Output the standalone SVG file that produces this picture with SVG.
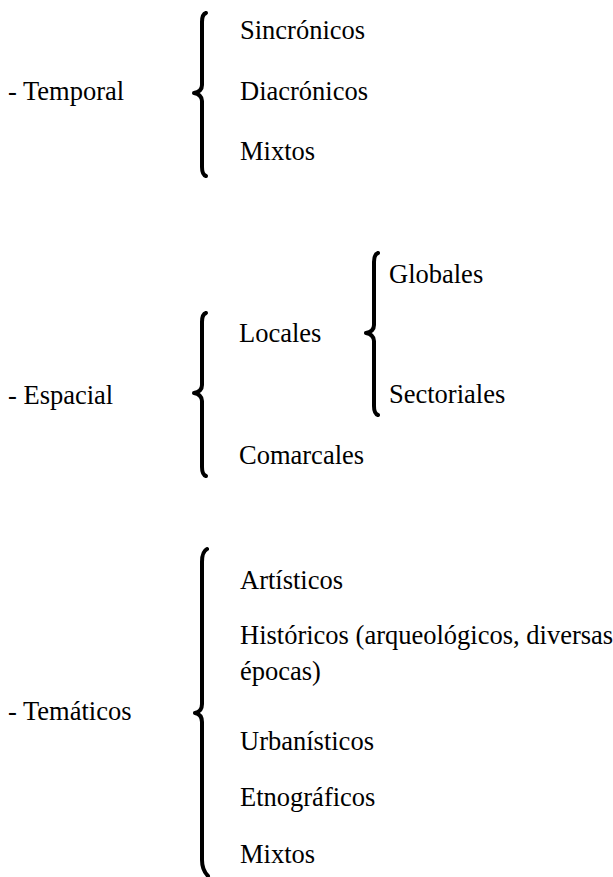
<svg xmlns="http://www.w3.org/2000/svg" width="613" height="877" viewBox="0 0 613 877">
<style>
.lbl{font-family:"Liberation Serif","Times New Roman",serif;font-size:26.5px;fill:#000}
.brace{fill:none;stroke:#000;stroke-width:4;stroke-linecap:round;stroke-linejoin:round}
</style>
<rect width="613" height="877" fill="#fff"/>
<g id="braces">
<path class="brace" d="M206,13 C203,14 202,17 202,22 L202,85 C202,89 199,92 194,93 C199,94 202,97 202,101 L202,167 C202,172 203,175 206,176"/>
<path class="brace" d="M378,253 C375,254 374,257 374,262 L374,325 C374,329 371,332 366,333 C371,334 374,337 374,341 L374,406 C374,411 375,414 378,415"/>
<path class="brace" d="M206,313 C203,314 202,317 202,322 L202,385 C202,389 199,392 194,393 C199,394 202,397 202,401 L202,467 C202,472 203,475 206,476"/>
<path class="brace" d="M207,549 C203,551 202,555 202,562 L202,704 C202,709 200,712 195,713 C200,714 202,717 202,722 L202,860 C202,867 204,872 208,876"/>
</g>
<g id="temporal" class="lbl" font-family="Liberation Serif" font-size="26.5">
<text x="8" y="100">- Temporal</text>
<text x="240" y="39">Sincrónicos</text>
<text x="240" y="100">Diacrónicos</text>
<text x="240" y="160">Mixtos</text>
</g>
<g id="espacial" class="lbl" font-family="Liberation Serif" font-size="26.5">
<text x="8" y="404">- Espacial</text>
<text x="239" y="342">Locales</text>
<text x="239" y="464">Comarcales</text>
<text x="389" y="283">Globales</text>
<text x="389" y="403">Sectoriales</text>
</g>
<g id="tematicos" class="lbl" font-family="Liberation Serif" font-size="26.5">
<text x="8" y="720">- Temáticos</text>
<text x="240" y="589">Artísticos</text>
<text x="240" y="644">Históricos (arqueológicos, diversas</text>
<text x="240" y="680">épocas)</text>
<text x="240" y="750">Urbanísticos</text>
<text x="240" y="806">Etnográficos</text>
<text x="240" y="863">Mixtos</text>
</g>
</svg>
